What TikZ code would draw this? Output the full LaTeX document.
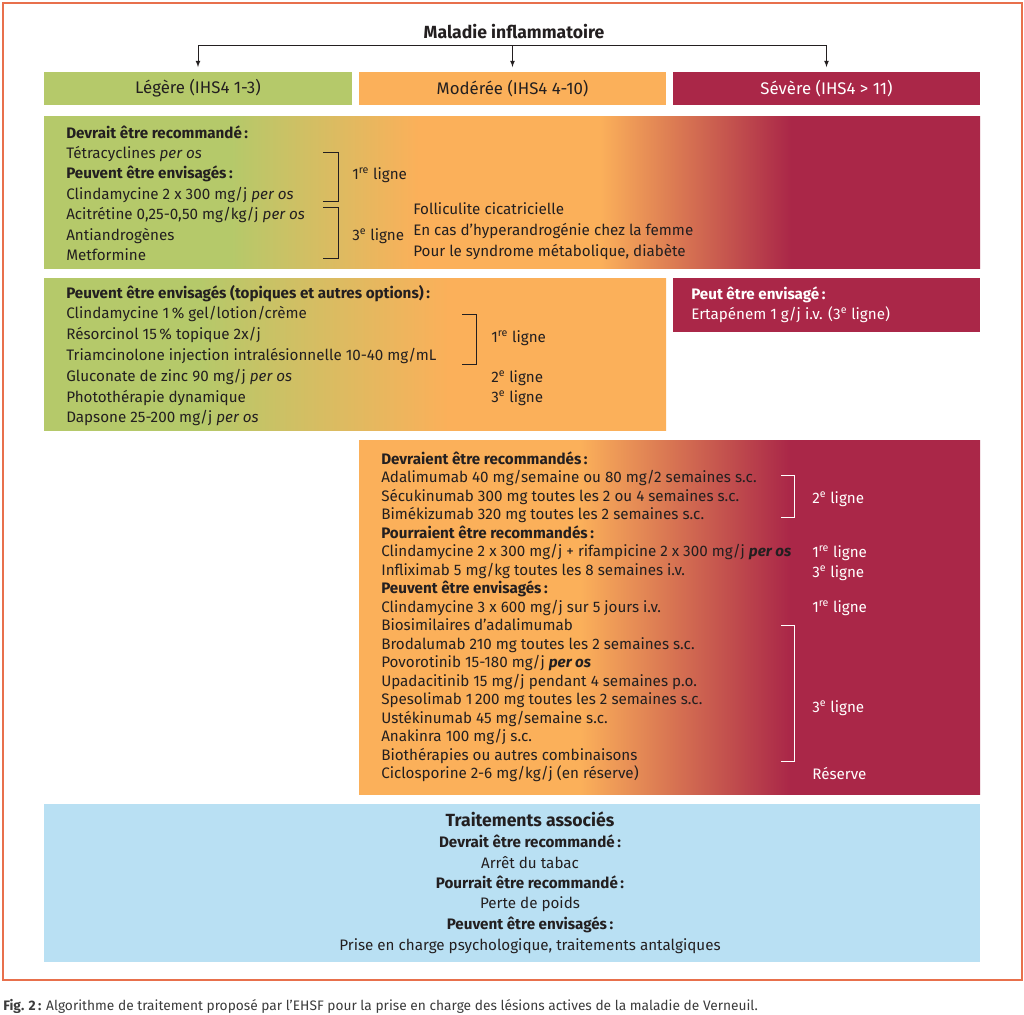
\documentclass[tikz,border=0pt]{standalone}
\usepackage{fontspec}
\setmainfont{Fira Sans}
\usetikzlibrary{positioning}
\definecolor{leg}{RGB}{181,201,106}
\definecolor{mod}{RGB}{251,176,90}
\definecolor{sev}{RGB}{170,39,72}
\definecolor{assoc}{RGB}{185,224,243}
\definecolor{cadre}{RGB}{232,112,76}
\definecolor{encre}{RGB}{35,31,32}
\pgfdeclarehorizontalshading{degrade1}{100bp}{color(0bp)=(leg); color(35bp)=(leg); color(45bp)=(mod); color(54.7bp)=(mod); color(64.9bp)=(sev); color(100bp)=(sev)}
\pgfdeclarehorizontalshading{degrade2}{100bp}{color(0bp)=(leg); color(37.5bp)=(leg); color(57.5bp)=(mod); color(100bp)=(mod)}
\pgfdeclarehorizontalshading{degrade4}{100bp}{color(0bp)=(mod); color(42.8bp)=(mod); color(59.7bp)=(sev); color(100bp)=(sev)}
\newcommand{\re}{1\textsuperscript{re}}
\newcommand{\de}[1]{#1\textsuperscript{e}}
\begin{document}
\begin{tikzpicture}[x=0.75pt, y=-0.75pt,
    txt/.style={anchor=base west, inner sep=0pt, text=encre, font=\fontsize{11.4}{13}\selectfont},
    blanc/.style={txt, text=white},
    centre/.style={txt, anchor=base},
    cat/.style={minimum height=24.75pt, inner sep=0pt, text=encre, font=\fontsize{12.6}{14}\selectfont}]
  \useasboundingbox (0,0) rectangle (1024,1014);
  \fill[white] (0,0) rectangle (1024,1014);
  \draw[cadre, line width=1.5pt] (2.5,2.5) rectangle (1021.5,979.5);
  % en-tete
  \node[centre, font=\bfseries\fontsize{13.2}{15}\selectfont] (titre) at (514,38) {Maladie inflammatoire};
  \node[cat, fill=leg, minimum width=231pt] (leg) at (198,88.5) {Légère (IHS4 1-3)};
  \node[cat, fill=mod, minimum width=230.25pt] (mod) at (512.5,88.5) {Modérée (IHS4 4-10)};
  \node[cat, fill=sev, minimum width=230.25pt, text=white] (sev) at (826.5,88.5) {Sévère (IHS4 > 11)};
  \coordinate (barre) at (0,45);
  \draw[encre, line width=0.6pt] (leg.north |- barre) -- (sev.north |- barre);
  \draw[encre, line width=0.6pt, -latex, shorten >=3.5pt] (leg.north |- barre) -- (leg.north);
  \draw[encre, line width=0.6pt, -latex, shorten >=3.5pt] (mod.north |- barre) -- (mod.north);
  \draw[encre, line width=0.6pt, -latex, shorten >=3.5pt] (sev.north |- barre) -- (sev.north);
  % legere
  \shade[shading=degrade1] (44,116) rectangle (980,268);
  \foreach \t [count=\i from 0] in {{\textbf{Devrait être recommandé\,:}}, {Tétracyclines \textit{per os}},
      {\textbf{Peuvent être envisagés\,:}}, {Clindamycine 2 x 300 mg/j \textit{per os}},
      {Acitrétine 0,25-0,50 mg/kg/j \textit{per os}}, {Antiandrogènes}, {Metformine}}
    \node[txt] (l\i) at (66,{138+20.4*\i}) {\t};
  \draw[encre, line width=0.75pt] (323,152) -| (338,201) -- (323,201);
  \draw[encre, line width=0.75pt] (323,207) -| (338,258) -- (323,258);
  \node[txt] (l1re) at (352,179) {\re{} ligne};
  \node[txt] (l3e) at (352,240) {\de{3} ligne};
  \node[txt] (lfol) at (413,214) {Folliculite cicatricielle};
  \node[txt] (lhyp) at (413,235) {En cas d’hyperandrogénie chez la femme};
  \node[txt] (lsyn) at (413,256) {Pour le syndrome métabolique, diabète};
  % topiques
  \shade[shading=degrade2] (44,278) rectangle (666,430);
  \foreach \t [count=\i from 0] in {{\textbf{Peuvent être envisagés (topiques et autres options)\,:}},
      {Clindamycine 1\,\% gel/lotion/crème}, {Résorcinol 15\,\% topique 2x/j},
      {Triamcinolone injection intralésionnelle 10-40 mg/mL}, {Gluconate de zinc 90 mg/j \textit{per os}},
      {Photothérapie dynamique}, {Dapsone 25-200 mg/j \textit{per os}}}
    \node[txt] (t\i) at (66,{298+20.8*\i}) {\t};
  \draw[encre, line width=0.75pt] (462,314) -| (476,364) -- (462,364);
  \node[txt] (t1re) at (491,342) {\re{} ligne};
  \node[txt] (t2e) at (491,382) {\de{2} ligne};
  \node[txt] (t3e) at (491,402) {\de{3} ligne};
  % ertapeneme
  \fill[sev] (673,278) rectangle (980,332);
  \node[blanc] (e0) at (691,299) {\textbf{Peut être envisagé\,:}};
  \node[blanc] (e1) at (691,319) {Ertapénem 1 g/j i.v. (\de{3} ligne)};
  % moderee et severe
  \shade[shading=degrade4] (359,440) rectangle (980,794);
  \foreach \t [count=\i from 0] in {{\textbf{Devraient être recommandés\,:}},
      {Adalimumab 40 mg/semaine ou 80 mg/2 semaines s.c.}, {Sécukinumab 300 mg toutes les 2 ou 4 semaines s.c.},
      {Bimékizumab 320 mg toutes les 2 semaines s.c.}, {\textbf{Pourraient être recommandés\,:}},
      {Clindamycine 2 x 300 mg/j + rifampicine 2 x 300 mg/j \textbf{\textit{per os}}},
      {Infliximab 5 mg/kg toutes les 8 semaines i.v.}, {\textbf{Peuvent être envisagés\,:}},
      {Clindamycine 3 x 600 mg/j sur 5 jours i.v.}, {Biosimilaires d’adalimumab},
      {Brodalumab 210 mg toutes les 2 semaines s.c.}, {Povorotinib 15-180 mg/j \textbf{\textit{per os}}},
      {Upadacitinib 15 mg/j pendant 4 semaines p.o.}, {Spesolimab 1\,200 mg toutes les 2 semaines s.c.},
      {Ustékinumab 45 mg/semaine s.c.}, {Anakinra 100 mg/j s.c.},
      {Biothérapies ou autres combinaisons}, {Ciclosporine 2-6 mg/kg/j (en réserve)}}
    \node[txt] (s\i) at (381,{464+18.5*\i}) {\t};
  \draw[white, line width=0.75pt] (781,475) -| (794,517) -- (781,517);
  \draw[white, line width=0.75pt] (781,625) -| (794,761) -- (781,761);
  \node[blanc] (s2e) at (812,503) {\de{2} ligne};
  \node[blanc] (s1re) at (812,557) {\re{} ligne};
  \node[blanc] (s3e) at (812,577) {\de{3} ligne};
  \node[blanc] (s1reb) at (812,612) {\re{} ligne};
  \node[blanc] (s3eb) at (812,712) {\de{3} ligne};
  \node[blanc] (sres) at (812,779) {Réserve};
  % traitements associes
  \fill[assoc] (44,804) rectangle (980,962);
  \node[centre, font=\bfseries\fontsize{13.2}{16}\selectfont] (a0) at (530,826) {Traitements associés};
  \node[centre] (a1) at (530,847) {\textbf{Devrait être recommandé\,:}};
  \node[centre] (a2) at (530,868) {Arrêt du tabac};
  \node[centre] (a3) at (530,888) {\textbf{Pourrait être recommandé\,:}};
  \node[centre] (a4) at (530,908) {Perte de poids};
  \node[centre] (a5) at (530,929) {\textbf{Peuvent être envisagés\,:}};
  \node[centre] (a6) at (530,950) {Prise en charge psychologique, traitements antalgiques};
  % legende
  \node[txt, text={rgb,255:red,60;green,60;blue,60}, font=\fontsize{10.3}{12}\selectfont] (fig) at (3,1010)
    {\textbf{Fig. 2\,:} Algorithme de traitement proposé par l’EHSF pour la prise en charge des lésions actives de la maladie de Verneuil.};
\end{tikzpicture}
\end{document}
